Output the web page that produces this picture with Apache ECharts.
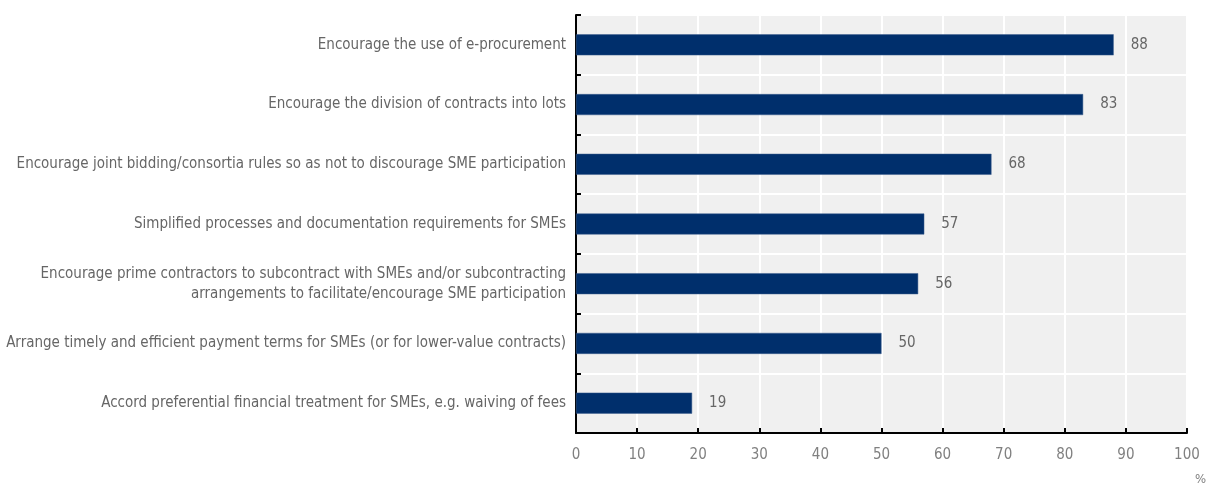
<!DOCTYPE html>
<html>
<head>
<meta charset="utf-8">
<script src="https://cdn.jsdelivr.net/npm/echarts@6/dist/echarts.min.js"></script>
<style>html,body{margin:0;padding:0;background:#fff}#c{width:1207px;height:486px}</style>
</head>
<body>
<div id="c"></div>
<script>
const categories = [
  "Encourage the use of e-procurement",
  "Encourage the division of contracts into lots",
  "Encourage joint bidding/consortia rules so as not to discourage SME participation",
  "Simplified processes and documentation requirements for SMEs",
  "Encourage prime contractors to subcontract with SMEs and/or subcontracting\narrangements to facilitate/encourage SME participation",
  "Arrange timely and efficient payment terms for SMEs (or for lower-value contracts)",
  "Accord preferential financial treatment for SMEs, e.g. waiving of fees"
];
const values = [88, 83, 68, 57, 56, 50, 19];
const xTicks = [0, 10, 20, 30, 40, 50, 60, 70, 80, 90, 100];

const FONT = "'DejaVu Sans Condensed', 'Liberation Sans', sans-serif";
const chart = echarts.init(document.getElementById('c'), null, {renderer: 'canvas'});
chart.setOption({
  animation: false,
  grid: {left: 576, right: 20, top: 15, bottom: 53, show: true, backgroundColor: '#f0f0f0', borderWidth: 0,
         containLabel: false, outerBoundsMode: 'none'},
  xAxis: {
    type: 'value', min: xTicks[0], max: xTicks[xTicks.length - 1], interval: 10,
    axisLine: {show: true, lineStyle: {color: '#000', width: 2}},
    axisTick: {show: true, inside: true, length: 5, lineStyle: {color: '#000', width: 2}},
    splitLine: {show: true, lineStyle: {color: '#fff', width: 2}},
    axisLabel: {color: '#808080', fontFamily: FONT, fontSize: 15, margin: 15},
    name: '%', nameLocation: 'end', nameGap: 8,
    nameTextStyle: {color: '#808080', fontFamily: FONT, fontSize: 13, verticalAlign: 'top', padding: [40, 0, 0, 0]}
  },
  yAxis: {
    type: 'category', data: categories, inverse: true,
    axisLine: {show: true, lineStyle: {color: '#000', width: 2}},
    axisTick: {show: true, inside: true, length: 5, lineStyle: {color: '#000', width: 2}},
    splitLine: {show: true, lineStyle: {color: '#fff', width: 2}},
    axisLabel: {color: '#666666', fontFamily: FONT, fontSize: 15, margin: 10, lineHeight: 20}
  },
  series: [{
    type: 'bar', data: values, barWidth: 21,
    itemStyle: {color: '#002f6c', borderColor: '#3c5f8f', borderWidth: 0.5},
    label: {show: true, position: 'right', distance: 17, color: '#666666', fontFamily: FONT, fontSize: 15}
  }]
});
</script>
</body>
</html>
